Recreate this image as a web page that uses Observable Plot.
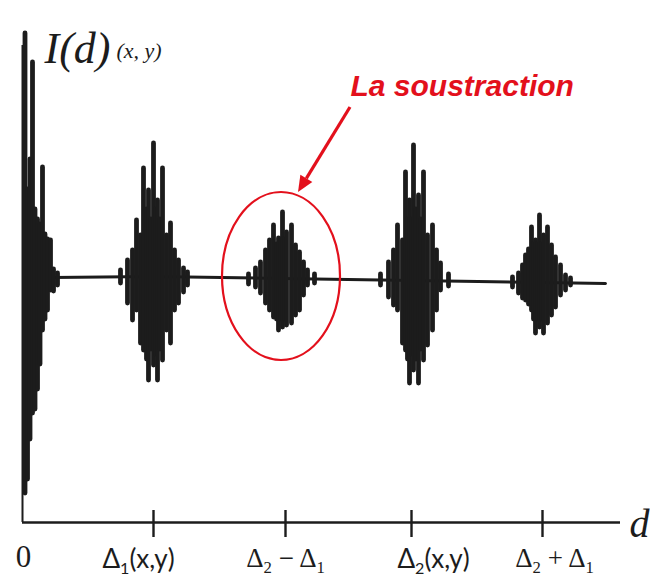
<!DOCTYPE html>
<html>
<head>
<meta charset="utf-8">
<script src="https://cdn.jsdelivr.net/npm/d3@7"></script>
<script src="https://cdn.jsdelivr.net/npm/@observablehq/plot@0.6"></script>
<style>
  body { margin: 0; background: #fff; }
  #chart svg { display: block; }
</style>
</head>
<body>
<div id="chart"></div>
<script>
// Interferogram I(d) at a pixel (x, y): fringe bursts at 0, Δ1, Δ2−Δ1, Δ2 and Δ2+Δ1.
// Each burst is a list of fringe swings: [d, upper excursion, lower excursion].
const burstZero = [
  [2.5, 246, -214], [5, 90, -200], [7.5, 120, -160], [10, 217, -134],
  [12.5, 70, -130], [15, 60, -110], [17.5, 55, -85], [20, 112, -51],
  [22.5, 45, -40], [25, 40, -31], [28, 39, -11], [31, 10, -12], [35, 6, -6]
];
const burstDelta1 = [
  [98, 9, -4], [105, 19, -24], [110, 29, -41], [114, 59, -31], [118, 44, -64],
  [121, 111, -71], [124, 70, -80], [126, 89, -101], [128.5, 60, -70], [131, 136, -86],
  [133, 70, -75], [135, 79, -101], [137.5, 60, -70], [140, 111, -81], [144, 44, -51],
  [148, 56, -64], [152, 29, -31], [156, 19, -24], [161, 11, -13], [165, 7, -6]
];
const burstDifference = [
  [226, 5, -5], [233, 11, -8], [238, 17, -14], [243, 29, -24], [247, 39, -31],
  [251, 54, -38], [254, 35, -40], [256, 41, -51], [258, 40, -40], [260, 67, -48],
  [262, 40, -40], [264, 47, -46], [269, 54, -44], [273, 34, -36], [277, 27, -31],
  [281, 17, -16], [285, 9, -6], [292, 5, -4]
];
const burstDelta2 = [
  [358, 5, -6], [366, 17, -18], [371, 29, -26], [375, 54, -31], [380, 39, -64],
  [383, 107, -71], [385, 60, -80], [387, 79, -104], [389, 60, -75], [391, 134, -91],
  [393.5, 70, -80], [396, 84, -104], [398.5, 60, -70], [401, 107, -81],
  [405, 44, -66], [410, 54, -51], [414, 29, -31], [418, 16, -11], [426, 5, -7]
];
const burstSum = [
  [490, 2, -8], [496, 6, -14], [500, 14, -19], [503, 24, -21], [506, 30, -25],
  [509, 52, -31], [511, 35, -40], [513, 39, -54], [515, 35, -40], [517, 64, -48],
  [519, 35, -40], [521, 44, -54], [525, 52, -44], [529, 34, -36],
  [533, 22, -28], [538, 14, -16], [543, 4, -11], [548, 1, -6]
];
// Quiet baseline between the bursts: [d, I]
const baseline = [[30, 2], [131, 3], [260, 1], [391, -1], [520, -3], [583, -4]];

// Axis ticks on d and their labels
const tickValues = [0, 131, 263, 389, 520];
const tickLabels = ["0", "Δ₁(x,y)", "Δ₂ − Δ₁", "Δ₂(x,y)", "Δ₂ + Δ₁"];

const dMax = 598;      // end of the d axis
const iMin = -243;     // level of the d axis
const iMax = 246;

const swings = [burstZero, burstDelta1, burstDifference, burstDelta2, burstSum]
  .flat()
  .map(([d, top, bottom]) => ({d, top, bottom}));

const ink = "#1c1c1c";
const red = "#e3101c";

// label placement under the ticks
const labelShift = [1, -15, 0, 22, 12];
const serifLabels = new Set([0, 2, 4]);

const chart = Plot.plot({
  width: 650,
  height: 577,
  marginLeft: 22,
  marginRight: 30,
  marginTop: 33,
  marginBottom: 55,
  x: {domain: [0, dMax], axis: null},
  y: {domain: [iMin, iMax], axis: null},
  marks: [
    // axes
    Plot.ruleY([iMin], {x1: 0, x2: dMax, stroke: ink, strokeWidth: 2.6}),
    Plot.ruleX([0], {y1: iMin, y2: iMax - 12, stroke: ink, strokeWidth: 2}),
    Plot.ruleX(tickValues.slice(1), {y1: iMin + 12, y2: iMin - 15, stroke: ink, strokeWidth: 2.4}),
    // signal
    Plot.line(baseline, {x: d => d[0], y: d => d[1], stroke: ink, strokeWidth: 3}),
    Plot.ruleX(swings, {x: "d", y1: "top", y2: "bottom", stroke: ink, strokeWidth: 4.8, strokeLinecap: "round"}),
    // tick labels
    Plot.text(tickValues, {
      filter: (d, i) => serifLabels.has(i) && i > 0,
      x: (d, i) => d + labelShift[i], y: iMin, dy: 36,
      text: (d, i) => tickLabels[i],
      fontFamily: "Liberation Serif", fontSize: 27, fill: ink
    }),
    Plot.text(tickValues, {
      filter: (d, i) => i === 0,
      x: (d, i) => d + labelShift[i], y: iMin, dy: 35,
      text: (d, i) => tickLabels[i],
      fontFamily: "Liberation Serif", fontSize: 31, fill: ink
    }),
    Plot.text(tickValues, {
      filter: (d, i) => !serifLabels.has(i),
      x: (d, i) => d + labelShift[i], y: iMin, dy: 37,
      text: (d, i) => tickLabels[i],
      fontFamily: "Lato", fontSize: 26, fill: ink
    }),
    // axis titles
    Plot.text(["d"], {x: dMax, y: iMin, dx: 9, dy: 2, text: d => d, textAnchor: "start",
      fontFamily: "Liberation Serif", fontStyle: "italic", fontSize: 40, fill: ink}),
    Plot.text(["I(d)"], {frameAnchor: "top-left", dx: 22, dy: -2, text: d => d, textAnchor: "start",
      fontFamily: "Liberation Serif", fontStyle: "italic", fontSize: 44, fill: ink}),
    Plot.text(["(x, y)"], {frameAnchor: "top-left", dx: 94, dy: 9, text: d => d, textAnchor: "start",
      fontFamily: "Liberation Serif", fontStyle: "italic", fontSize: 22, fill: ink}),
    // annotation
    Plot.text(["La soustraction"], {x: 328, y: 193, text: d => d, textAnchor: "start",
      fontFamily: "Liberation Sans", fontWeight: "bold", fontStyle: "italic", fontSize: 30, fill: red})
  ]
});

document.getElementById("chart").append(chart);

const svg = d3.select(chart);
const x = v => chart.scale("x").apply(v);
const y = v => chart.scale("y").apply(v);

// subscripts in the tick labels
const subDigits = {"₁": "1", "₂": "2"};
svg.selectAll("text").each(function () {
  const s = this.textContent;
  if (!/[₁₂]/.test(s)) return;
  const el = d3.select(this);
  const size = parseFloat(el.attr("font-size") || this.parentNode.getAttribute("font-size")) || 26;
  const shift = size * 0.22;
  el.text(null);
  let lowered = false;
  for (const part of s.match(/[₁₂]|[^₁₂]+/g)) {
    const t = el.append("tspan");
    if (subDigits[part]) {
      t.attr("font-size", size * 0.62).attr("dy", lowered ? 0 : shift).text(subDigits[part]);
      lowered = true;
    } else {
      t.attr("dy", lowered ? -shift : 0).text(part);
      lowered = false;
    }
  }
});

// ring around the Δ2 − Δ1 burst
const dLo = d3.min(burstDifference, d => d[0]) - 26;
const dHi = d3.max(burstDifference, d => d[0]) + 26;
const iLo = d3.min(burstDifference, d => d[2]) - 30;
const iHi = d3.max(burstDifference, d => d[1]) + 20;
svg.append("ellipse")
  .attr("cx", (x(dLo) + x(dHi)) / 2)
  .attr("cy", (y(iLo) + y(iHi)) / 2)
  .attr("rx", (x(dHi) - x(dLo)) / 2)
  .attr("ry", (y(iLo) - y(iHi)) / 2)
  .attr("fill", "none")
  .attr("stroke", red)
  .attr("stroke-width", 2.2);

// arrow from the annotation to the ring
const x1 = x(328), y1 = y(172), x2 = x(276), y2 = y(iHi);
const ang = Math.atan2(y2 - y1, x2 - x1);
const head = 16, half = 7;
const bx = x2 - head * Math.cos(ang), by = y2 - head * Math.sin(ang);
svg.append("line")
  .attr("x1", x1).attr("y1", y1).attr("x2", bx).attr("y2", by)
  .attr("stroke", red).attr("stroke-width", 3.2);
svg.append("polygon")
  .attr("points", [
    [x2, y2],
    [bx + half * Math.sin(ang), by - half * Math.cos(ang)],
    [bx - half * Math.sin(ang), by + half * Math.cos(ang)]
  ].map(p => p.join(",")).join(" "))
  .attr("fill", red);
</script>
</body>
</html>
